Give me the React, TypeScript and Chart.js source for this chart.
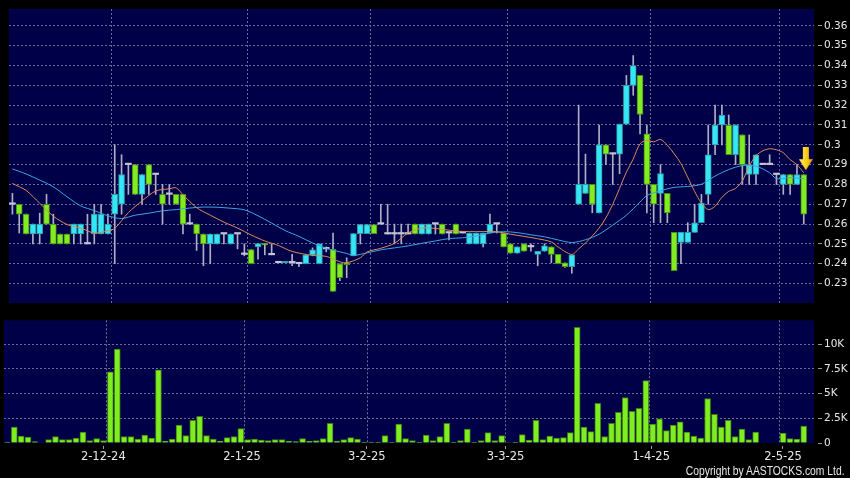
import React, { useEffect, useRef } from 'react';
import { Chart, registerables } from 'chart.js';
Chart.register(...registerables);

// ---- data ----
const dateIdx = [15, 35, 53, 73, 94, 113];
const dateLabels = ['2-12-24', '2-1-25', '3-2-25', '3-3-25', '1-4-25', '2-5-25'];

const opens = [
  .270, .270, .265, .255, .255, .270, .260, .255, .255, .255,
  .255, .250, .255, .255, .255, .265, .270, .290, .290, .275,
  .290, .285, .275, .275, .275, .275, .260, .260, .255, .250,
  .250, .255, .250, .255, .2447, .2472, .2485, .2502, .2445, .2405,
  .2405, .2405, .240, .240, .2445, .240, .2475, .2473, .240, .2405,
  .244, .2552, .2552, .2598, .260, .255, .255, .255, .255, .260,
  .255, .255, .260, .260, .2555, .260, .2555, .250, .250, .250,
  .2555, .260, .2555, .250, .2453, .250, .2485, .2447, .2463, .2485,
  .2447, .2405, .2385, .270, .2755, .280, .2657, .300, .2953, .2953,
  .3104, .330, .335, .3055, .280, .2755, .2755, .2558, .2508, .2508,
  .2558, .2607, .275, .300, .310, .310, .295, .305, .285, .285,
  .290, .290, .285, .280, .285, .280, .285,
];
const highs = [
  .2755, .270, .265, .260, .2655, .275, .265, .255, .255, .260,
  .260, .265, .270, .270, .265, .300, .295, .290, .290, .285,
  .290, .285, .280, .280, .275, .275, .265, .260, .255, .255,
  .255, .255, .255, .255, .250, .2472, .2502, .2502, .250, .2405,
  .241, .2447, .240, .2445, .248, .250, .2485, .2555, .240, .243,
  .2552, .2598, .2598, .2598, .270, .270, .260, .260, .260, .260,
  .260, .260, .260, .260, .2555, .260, .2555, .2555, .2555, .2555,
  .265, .260, .2555, .250, .2485, .250, .250, .2463, .250, .2485,
  .2447, .2405, .2445, .320, .2953, .280, .310, .300, .2953, .3104,
  .335, .345, .335, .310, .280, .290, .2755, .2558, .2558, .2607,
  .270, .275, .310, .320, .320, .315, .310, .305, .305, .295,
  .290, .295, .285, .285, .285, .290, .285,
];
const lows = [
  .265, .2555, .255, .250, .250, .260, .250, .250, .250, .250,
  .250, .250, .250, .255, .255, .240, .265, .275, .275, .270,
  .275, .275, .260, .270, .270, .255, .260, .2467, .239, .240,
  .250, .250, .250, .2475, .244, .240, .2423, .2445, .2445, .2405,
  .2405, .239, .2385, .240, .244, .240, .246, .226, .2315, .233,
  .244, .250, .2552, .2552, .260, .255, .250, .250, .255, .255,
  .255, .255, .255, .255, .252, .255, .2555, .250, .250, .2485,
  .2555, .2555, .2485, .2453, .2453, .2463, .2463, .239, .2463, .2405,
  .240, .2381, .2352, .270, .2755, .2657, .2657, .290, .280, .2854,
  .3104, .325, .3055, .2657, .2607, .2607, .2607, .2365, .240, .2508,
  .2558, .2607, .270, .295, .300, .295, .290, .280, .280, .280,
  .290, .290, .280, .275, .275, .280, .260,
];
const closes = [
  .270, .265, .255, .260, .260, .260, .250, .250, .250, .260,
  .260, .250, .265, .265, .260, .275, .285, .290, .275, .285,
  .280, .285, .270, .275, .270, .260, .260, .255, .250, .255,
  .255, .255, .255, .255, .2447, .240, .2502, .2495, .2445, .2405,
  .241, .2405, .240, .2445, .247, .250, .2475, .226, .233, .2395,
  .2552, .2598, .2598, .2552, .260, .255, .255, .255, .255, .255,
  .260, .260, .260, .255, .2555, .255, .2555, .2555, .2555, .2555,
  .260, .260, .2485, .2453, .2485, .2463, .2485, .2463, .249, .2447,
  .240, .2385, .2445, .280, .280, .270, .300, .2953, .2953, .3104,
  .330, .340, .3153, .280, .270, .2855, .2657, .2365, .2558, .2558,
  .2607, .2706, .295, .310, .315, .295, .310, .290, .290, .295,
  .290, .290, .285, .285, .280, .285, .265,
];
const volumesK = [
  0.1, 1.6, 0.7, 0.6, 0.15, 0, 0.35, 0.65, 0.35, 0.35,
  0.5, 1.1, 0.25, 0.45, 0.25, 7.2, 9.5, 0.65, 0.65, 0.4,
  0.8, 0.5, 7.4, 0.2, 0.4, 1.8, 0.75, 2.3, 2.7, 0.75,
  0.4, 0.2, 0.55, 0.65, 1.45, 0.35, 0.4, 0.3, 0.25, 0.35,
  0.35, 0.2, 0.15, 0.45, 0.2, 0.25, 0.45, 2.0, 0.2, 0.35,
  0.55, 0.4, 0.1, 0.1, 0.1, 0.75, 0.1, 1.9, 0.45, 0.25,
  0.1, 0.8, 0.25, 0.65, 2.0, 0.1, 0.25, 1.4, 0.1, 0.25,
  1.05, 0.25, 0.75, 0.05, 0.1, 0.85, 0.3, 2.3, 0.35, 0.7,
  0.5, 0.55, 1.05, 11.7, 1.6, 1.15, 4.0, 0.65, 2.0, 3.1,
  4.6, 3.2, 3.5, 6.3, 1.9, 2.45, 1.25, 1.8, 2.15, 1.1,
  0.7, 0.5, 4.5, 2.9, 1.6, 2.3, 0.65, 1.4, 0.35, 1.1,
  0, 0, 0, 1.0, 0.45, 0.4, 1.7,
];
// moving averages: [candle index, value]
const maFast: [number, number][] = [
  [0, .2805], [2, .277], [4, .2705], [6, .264], [8, .2598], [10, .258], [12, .2555], [14, .2567], [15, .2578],
  [17, .2658], [19, .2717], [21, .2767], [23, .2778], [24, .2783], [25, .2748], [27, .2683], [29, .2645],
  [31, .261], [33, .258], [35, .2545], [37, .2515], [39, .2492], [41, .2462], [44, .2442], [46, .2437],
  [48, .241], [49, .2405], [51, .243], [52, .246], [54, .2478], [56, .2503], [58, .2555], [60, .258],
  [62, .2578], [65, .2565], [67, .2562], [69, .2562], [71, .2562], [73, .2549], [75, .2538], [77, .2526],
  [79, .251], [80, .2484], [82, .2447], [83, .2475], [84, .2505], [85, .254], [86, .258], [87, .2632],
  [88, .270], [89, .278], [90, .2862], [91, .2928], [92, .3005], [93, .3023], [94, .3015], [95, .3027],
  [96, .2998], [97, .2955], [98, .2905], [99, .2835], [100, .2765], [101, .2705], [102, .2673], [103, .269],
  [104, .2735], [105, .2765], [106, .278], [107, .2818], [108, .2892], [109, .2945], [110, .297], [111, .298],
  [112, .2975], [113, .296], [114, .2925], [115, .29], [116, .2859],
];
const maSlow: [number, number][] = [
  [0, .2878], [2, .2853], [4, .2822], [6, .2788], [8, .2738], [10, .2692], [12, .2668], [14, .2642], [16, .2628],
  [18, .2645], [20, .2655], [22, .2667], [24, .2673], [26, .2681], [28, .2686], [30, .2685], [32, .268],
  [34, .2672], [36, .2642], [38, .2605], [40, .2567], [42, .2538], [44, .2505], [46, .2478], [48, .246],
  [49, .2452], [50, .2442], [52, .2455], [54, .247], [56, .248], [58, .249], [60, .2503], [62, .2515],
  [64, .2527], [66, .2531], [68, .254], [70, .2555], [72, .2562], [74, .2557], [76, .2546], [78, .2536],
  [80, .252], [82, .2507], [84, .2521], [86, .2549], [88, .2595], [90, .2645], [92, .2711], [93, .2744],
  [95, .2768], [97, .2785], [99, .279], [101, .2801], [103, .2842], [105, .2875], [107, .2895], [109, .2892],
  [111, .2859], [112, .2829], [114, .2834], [116, .2829],
];
const signalPoint = { x: 116.3, y: 0.293 };

// ---- styles ----
const NAVY = '#000048';
const GRID = '#6c6c9c';
const TICK = '#9a9aa8';
const TEXT = '#e8e8e8';
const UP = '#36e6f4';
const UP_BORDER = '#2a9aa8';
const DOWN = '#82ec22';
const DOWN_BORDER = '#4a8c14';
const DOJI = '#c4c4d4';
const WICK = '#aeaec4';
const ORANGE = '#dc8a5e';
const BLUE = '#3ea4e6';
const FONT = 'DejaVu Sans';

const plotBg = {
  id: 'plotBg',
  beforeDraw(chart: any) {
    const { ctx, chartArea: a } = chart;
    ctx.save();
    ctx.fillStyle = NAVY;
    ctx.fillRect(a.left, a.top, a.right - a.left, a.bottom - a.top);
    ctx.restore();
  },
};

function makeArrow(): HTMLCanvasElement {
  const c = document.createElement('canvas');
  c.width = 14;
  c.height = 23;
  const g = c.getContext('2d')!;
  const grad = g.createLinearGradient(0, 0, 14, 0);
  grad.addColorStop(0, '#fff070');
  grad.addColorStop(0.5, '#ffd21a');
  grad.addColorStop(1, '#e89a00');
  g.fillStyle = grad;
  g.beginPath();
  g.moveTo(4, 0);
  g.lineTo(10, 0);
  g.lineTo(10, 12);
  g.lineTo(14, 12);
  g.lineTo(7, 23);
  g.lineTo(0, 12);
  g.lineTo(4, 12);
  g.closePath();
  g.fill();
  return c;
}

const dir = (i: number) => (closes[i] > opens[i] ? 1 : closes[i] < opens[i] ? -1 : 0);

const gridX = (extra: any = {}) => ({
  type: 'linear', position: 'bottom', min: -0.5, max: 117.5, offset: false,
  afterBuildTicks: (s: any) => { s.ticks = dateIdx.map((v) => ({ value: v - 0.5 })); },
  ticks: { display: false },
  grid: { color: GRID, drawTicks: false, offset: false },
  border: { display: false, dash: [2, 2] },
  afterFit: (s: any) => { s.height = 0; },
  ...extra,
});

function priceConfig(): any {
  const wicks = opens.map((_, i) => ({ x: i, y: [lows[i], highs[i]] }));
  const bodies = opens.map((o, i) => ({ x: i, y: [o, closes[i]] }));
  return {
    type: 'bar',
    data: {
      datasets: [
        { type: 'bar', data: wicks, backgroundColor: WICK, barThickness: 1, grouped: false, order: 5, borderWidth: 0 },
        {
          type: 'bar', data: bodies, grouped: false, order: 4, barThickness: 6, minBarLength: 1.5,
          borderSkipped: false,
          backgroundColor: (c: any) => { const d = dir(c.dataIndex); return d > 0 ? UP : d < 0 ? DOWN : DOJI; },
          borderColor: (c: any) => { const d = dir(c.dataIndex); return d > 0 ? UP_BORDER : d < 0 ? DOWN_BORDER : DOJI; },
          borderWidth: (c: any) => (dir(c.dataIndex) === 0 ? 0 : 1),
        },
        { type: 'line', data: maSlow.map(([x, y]) => ({ x, y })), borderColor: BLUE, borderWidth: 1, pointRadius: 0, tension: 0.3, order: 3 },
        { type: 'line', data: maFast.map(([x, y]) => ({ x, y })), borderColor: ORANGE, borderWidth: 1, pointRadius: 0, tension: 0.3, order: 2 },
        { type: 'scatter', data: [signalPoint], pointStyle: makeArrow(), pointRadius: 8, order: 1 },
      ],
    },
    options: {
      responsive: false,
      animation: false,
      events: [],
      layout: { padding: { left: 4, top: 6, bottom: 6, right: 0 } },
      plugins: { legend: { display: false }, tooltip: { enabled: false } },
      scales: {
        x: gridX(),
        y: {
          position: 'right', min: 0.2202, max: 0.3685,
          ticks: {
            stepSize: 0.01, includeBounds: false, color: TEXT, padding: 2,
            font: { family: FONT, size: 10.5 },
            callback: (v: number) => String(Number(v.toFixed(2))),
          },
          grid: { color: GRID, tickColor: TICK, tickLength: 8, tickBorderDash: [0, 4, 4, 0] },
          border: { display: false, dash: [2, 2] },
          afterFit: (s: any) => { s.width = 36; },
        },
      },
    },
    plugins: [plotBg],
  };
}

function volConfig(): any {
  return {
    type: 'bar',
    data: {
      datasets: [
        {
          type: 'bar', data: volumesK.map((v, i) => ({ x: i, y: v })), barThickness: 6,
          backgroundColor: '#7eee20', borderColor: '#3e7a12', borderWidth: 1,
        },
      ],
    },
    options: {
      responsive: false,
      animation: false,
      events: [],
      layout: { padding: { left: 4, top: 7, bottom: 0, right: 0 } },
      plugins: { legend: { display: false }, tooltip: { enabled: false } },
      scales: {
        x: gridX({ weight: 1 }),
        xl: {
          type: 'linear', position: 'bottom', min: 0.68, max: 117.47, weight: 2, offset: false,
          afterBuildTicks: (s: any) => { s.ticks = dateIdx.map((v) => ({ value: v })); },
          ticks: {
            color: TEXT, padding: 1, maxRotation: 0, autoSkip: false,
            font: { family: FONT, size: 11.5 },
            callback: (_v: number, i: number) => dateLabels[i],
          },
          grid: { drawOnChartArea: false, offset: false, tickColor: TICK, tickLength: 6, tickBorderDash: [0, 3, 3, 0] },
          border: { display: false },
          afterFit: (s: any) => { s.height = 35; },
        },
        y: {
          position: 'right', min: 0, max: 12.4,
          ticks: {
            stepSize: 2.5, includeBounds: false, color: TEXT, padding: 2,
            font: { family: FONT, size: 10.5 },
            callback: (v: number) => (v === 0 ? '0' : v + 'K'),
          },
          grid: {
            color: (c: any) => (c.tick && c.tick.value === 0 ? 'rgba(0,0,0,0)' : GRID),
            tickColor: TICK, tickLength: 8, tickBorderDash: [0, 4, 4, 0],
          },
          border: { display: false, dash: [2, 2] },
          afterFit: (s: any) => { s.width = 36; },
        },
      },
    },
    plugins: [plotBg],
  };
}

export default function App() {
  const priceRef = useRef<HTMLCanvasElement>(null);
  const volRef = useRef<HTMLCanvasElement>(null);
  useEffect(() => {
    const c1 = new Chart(priceRef.current!, priceConfig());
    const c2 = new Chart(volRef.current!, volConfig());
    return () => { c1.destroy(); c2.destroy(); };
  }, []);
  return (
    <div style={{ position: 'fixed', left: 0, top: 0, width: 850, height: 478, background: '#000', overflow: 'hidden' }}>
      <canvas ref={priceRef} width={850} height={312} style={{ position: 'absolute', left: 0, top: 0 }} />
      <canvas ref={volRef} width={850} height={166} style={{ position: 'absolute', left: 0, top: 312 }} />
      <div
        style={{
          position: 'absolute', right: 5, top: 464, lineHeight: '14px', fontSize: 12,
          fontFamily: '"Liberation Sans", sans-serif', transform: 'scaleX(0.86)', transformOrigin: 'right center',
          color: TEXT, whiteSpace: 'nowrap',
        }}
      >
        Copyright by AASTOCKS.com Ltd.
      </div>
    </div>
  );
}
